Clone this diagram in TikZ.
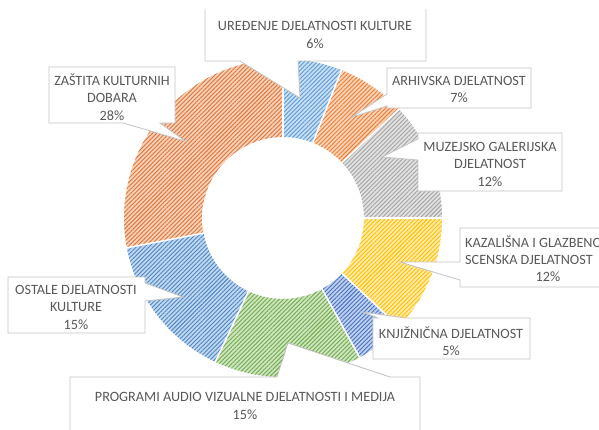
\documentclass[tikz,border=0pt]{standalone}
\usepackage{fontspec}
\setmainfont{Carlito}
\usetikzlibrary{patterns.meta}
\definecolor{cU}{HTML}{5B9BD5}
\definecolor{cA}{HTML}{ED7D31}
\definecolor{cM}{HTML}{A5A5A5}
\definecolor{cK}{HTML}{FFC000}
\definecolor{cJ}{HTML}{4472C4}
\definecolor{cP}{HTML}{70AD47}
\definecolor{cO}{HTML}{4A88C8}
\definecolor{cZ}{HTML}{E07533}
\definecolor{lineGray}{HTML}{C4C4C4}
\definecolor{txtGray}{HTML}{595959}
\tikzset{
  hatch/.style={pattern={Lines[angle=45,distance=3pt,line width=0.9pt]}},
  gapline/.style={draw=white,line width=1.5pt},
  callout/.style={fill=white,draw=lineGray,line width=0.8pt,line join=miter},
  calloutline/.style={draw=lineGray,line width=0.8pt,line join=miter},
  lbl/.style={align=center,text=txtGray,font=\fontsize{14.2}{17.5}\selectfont,inner sep=0pt}
}
\begin{document}
\begin{tikzpicture}[x=1pt,y=-1pt]
\useasboundingbox (0,0) rectangle (599,430);
\clip (0,0) rectangle (599,430);
\fill[white] (0,0) rectangle (599,430);
% doughnut
\begin{scope}[shift={(283,218)},yscale=-1]
  \foreach \a/\b/\c in {90/68.4/cU, 68.4/43.2/cA, 43.2/0/cM, 0/-43.2/cK, -43.2/-61.2/cJ, -61.2/-115.2/cP, -115.2/-169.2/cO, -169.2/-270/cZ}{
    \fill[\c!34!white] (\a:159) arc[start angle=\a,end angle=\b,radius=159] -- (\b:81) arc[start angle=\b,end angle=\a,radius=81] -- cycle;
    \fill[hatch,pattern color=\c] (\a:159) arc[start angle=\a,end angle=\b,radius=159] -- (\b:81) arc[start angle=\b,end angle=\a,radius=81] -- cycle;
  }
  \foreach \a in {90,68.4,43.2,0,-43.2,-61.2,-115.2,-169.2}{
    \draw[gapline] (\a:79) -- (\a:161);
  }
\end{scope}
% callout tips
\coordinate (tU) at (300,98);
\coordinate (tZ) at (185,141);
\coordinate (tA) at (352,117);
\coordinate (tM) at (382,157);
\coordinate (tK) at (400,262);
\coordinate (tJ) at (363,312);
\coordinate (tP) at (288,343);
\coordinate (tO) at (183,297);
% Uredjenje (top border not visible)
\fill[white] (205,9) -- (205,61) -- (240,61) -- (tU) -- (298,61) -- (426,61) -- (426,9) -- cycle;
\draw[calloutline] (205,9) -- (205,61) -- (240,61) -- (tU) -- (298,61) -- (426,61) -- (426,9);
% Zastita
\draw[callout] (49,67) -- (175,67) -- (175,123) -- (160,123) -- (tZ) -- (123,123) -- (49,123) -- cycle;
% Arhivska
\draw[callout] (387,68) -- (531,68) -- (531,108) -- (387,108) -- (387,106) -- (tA) -- (387,94) -- cycle;
% Muzejsko
\draw[callout] (418,133) -- (562,133) -- (562,191) -- (418,191) -- (418,160) -- (tM) -- (418,139) -- cycle;
% Kazalisna
\draw[callout] (460,228) -- (640,228) -- (640,287) -- (460,287) -- (460,280) -- (tK) -- (460,262) -- cycle;
% Knjiznicna
\draw[callout] (373,318) -- (378,318) -- (tJ) -- (405,318) -- (530,318) -- (530,359) -- (373,359) -- cycle;
% Programi
\draw[callout] (70,377) -- (277,377) -- (tP) -- (390,377) -- (420,377) -- (420,445) -- (70,445) -- cycle;
% Ostale
\draw[callout] (8,277) -- (145,277) -- (145,283) -- (tO) -- (145,301) -- (145,333) -- (8,333) -- cycle;
% labels
\node[lbl] (nU) at (315,35) {UREĐENJE DJELATNOSTI KULTURE\\6\%};
\node[lbl] (nZ) at (112,97) {ZAŠTITA KULTURNIH\\DOBARA\\28\%};
\node[lbl] (nA) at (459,89.5) {ARHIVSKA DJELATNOST\\7\%};
\node[lbl] (nM) at (490,164) {MUZEJSKO GALERIJSKA\\DJELATNOST\\12\%};
\node[lbl,align=left,anchor=west] (nK) at (465,250) {KAZALIŠNA I GLAZBENO\\SCENSKA DJELATNOST};
\node[lbl] (nK2) at (548,277) {12\%};
\node[lbl] (nJ) at (451,341) {KNJIŽNIČNA DJELATNOST\\5\%};
\node[lbl] (nP) at (245,406) {PROGRAMI AUDIO VIZUALNE DJELATNOSTI I MEDIJA\\15\%};
\node[lbl] (nO) at (76,307) {OSTALE DJELATNOSTI\\KULTURE\\15\%};
\end{tikzpicture}
\end{document}
